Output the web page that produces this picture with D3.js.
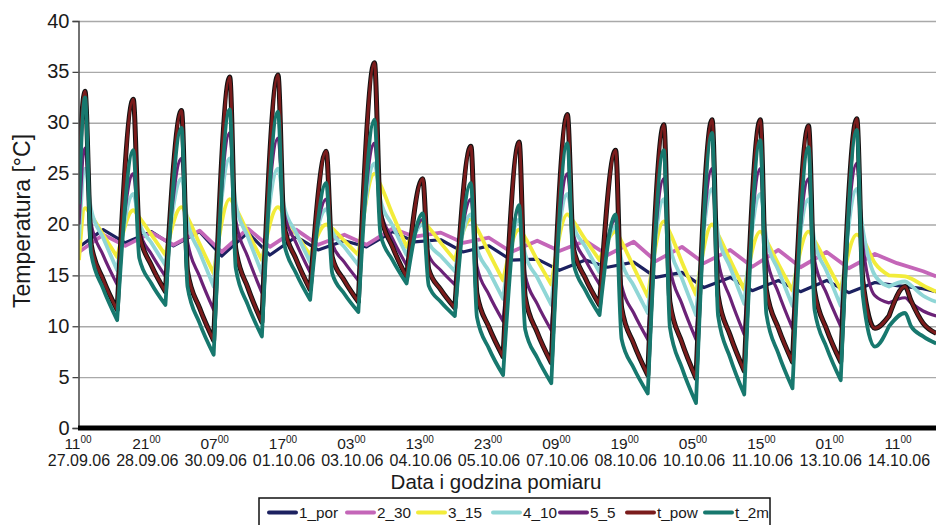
<!DOCTYPE html>
<html><head><meta charset="utf-8">
<script src="https://cdn.jsdelivr.net/npm/d3@7"></script>
<style>
html,body{margin:0;padding:0;background:#fff;}
svg{display:block;font-family:"Liberation Sans",Arial,Helvetica,sans-serif;}
</style></head><body>
<svg id="chart" width="936" height="525"></svg>
<script>
// ---------------- DATA ----------------
const seriesNames = ["1_por", "2_30", "3_15", "4_10", "5_5", "t_pow", "t_2m"];
const tickHours = ["11","21","07","17","03","13","23","09","19","05","15","01","11"];
const tickDates = ["27.09.06","28.09.06","30.09.06","01.10.06","03.10.06","04.10.06","05.10.06","07.10.06","08.10.06","10.10.06","11.10.06","13.10.06","14.10.06"];
const yTicks = [0, 5, 10, 15, 20, 25, 30, 35, 40];
const firstDay = "27.09.06";
const startClock = 11;            // first reading 11:00 27.09.06
const endStamp = "15.10.06 05:30"; // last reading
// surface-type series: one row per day, readings at these clock hours (first row starts at 11:00)
const surfaceClock = [6, 14, 17, 23];
// deep series: one row per day, readings at these clock hours (first row starts at 11:00)
const deepClock = [10, 23];

const por1 = [[17.8,19.5],[18.2,19.3],[17.9,19.3],[16.9,19.2],[17.0,18.8],[17.5,18.4],[17.8,19.3],[18.3,18.5],[17.3,17.9],[16.5,16.6],[15.5,16.5],[15.8,16.3],[14.8,15.3],[13.8,14.8],[13.5,14.5],[13.4,14.5],[13.3,14.3],[14.0,13.7]];
const por1End = 13.4;
const s2_30 = [[17.3,19.0],[17.9,19.2],[18.0,19.4],[17.3,19.6],[17.8,19.5],[18.0,19.0],[18.0,19.6],[18.8,19.2],[18.2,18.7],[17.3,18.4],[17.4,18.4],[17.0,18.3],[16.4,17.8],[16.2,17.5],[15.85,17.5],[15.8,17.3],[15.7,17.1],[16.2,15.4]];
const s2_30End = 14.9;
const s3_15 = [[16.5,21.6,20.9,19.0],[16.8,21.4,20.7,19.0],[17.0,21.7,20.7,18.1],[15.2,22.5,21.6,19.2],[16.5,21.7,21.0,19.1],[17.0,20.0,19.6,18.4],[17.0,25.0,23.9,21.0],[17.8,20.3,19.7,18.2],[16.5,20.5,19.6,17.2],[14.5,19.5,18.7,16.5],[14.1,21.0,20.3,18.5],[16.5,19.3,18.3,15.8],[12.9,20.3,19.2,16.3],[13.1,20.0,19.0,16.5],[13.6,19.3,18.4,16.1],[13.5,19.3,18.4,16.2],[13.6,19.0,18.5,16.2],[15.0,14.9,14.7,14.0]];
const s3_15End = 13.4;
const s4_10 = [[18.5,25.5,21.5,18.7],[15.5,23.0,20.2,18.2],[16.0,24.5,20.3,17.3],[13.9,26.5,22.0,18.8],[15.2,25.5,21.8,19.2],[16.3,21.5,19.3,17.8],[16.0,26.0,22.4,19.9],[17.0,20.0,18.2,16.9],[15.4,21.0,17.7,15.4],[12.7,20.5,17.1,14.8],[12.1,23.0,19.9,17.8],[15.3,19.8,16.4,14.0],[11.3,22.5,17.9,14.7],[11.1,23.5,19.0,15.8],[12.2,23.0,18.6,15.5],[12.0,22.5,18.3,15.4],[12.0,23.5,19.5,15.0],[13.9,14.4,14.0,13.0]];
const s4_10End = 12.4;
const s5_5 = [[20.0,27.5,20.1,17.0],[14.1,25.0,19.4,17.1],[14.9,26.5,18.3,14.9],[11.6,29.0,20.4,16.8],[13.3,28.5,21.2,18.2],[15.3,22.5,18.1,16.3],[14.5,28.0,21.4,18.6],[16.0,20.5,17.0,15.5],[14.1,22.5,15.9,13.1],[10.5,21.5,15.0,12.2],[9.6,25.0,19.0,16.5],[14.1,20.5,14.0,11.3],[8.7,24.5,15.8,12.2],[8.7,25.5,16.5,12.8],[9.2,25.5,16.9,13.3],[9.8,24.5,16.5,13.2],[10.0,26.0,18.0,13.0],[12.3,12.8,12.3,11.5]];
const s5_5End = 11.0;
const tPow = [[26.0,33.1,18.1,14.6],[11.6,32.3,19.1,16.0],[13.4,31.2,15.4,11.8],[8.6,34.5,17.6,13.8],[10.4,34.7,19.9,16.6],[13.6,27.2,16.8,14.5],[12.4,35.9,21.1,17.8],[14.8,24.5,15.6,13.6],[11.8,27.7,13.2,9.9],[7.0,28.1,12.9,9.4],[6.4,30.8,17.7,14.7],[12.1,27.3,11.8,8.3],[5.2,29.8,12.4,8.4],[4.9,30.3,13.0,9.1],[5.6,30.3,13.6,9.8],[6.5,29.7,13.5,9.7],[6.5,30.4,14.5,9.8],[11.0,13.9,12.5,10.3]];
const tPowEnd = 9.3;
const t2m = [[22.0,32.5,17.2,13.7],[10.6,27.3,16.7,14.2],[12.1,29.5,13.9,10.3],[7.2,31.3,15.7,12.1],[9.0,31.1,18.2,15.2],[12.6,24.1,15.2,13.2],[11.4,30.3,19.0,16.5],[14.2,21.1,14.0,12.4],[11.0,24.1,10.9,7.8],[5.2,21.9,9.7,6.9],[4.4,28.0,16.2,13.5],[11.1,21.0,8.7,5.9],[3.4,27.3,9.9,5.9],[2.45,29.0,11.0,6.9],[3.3,28.3,11.2,7.3],[3.9,27.6,11.6,7.9],[4.7,29.3,13.0,8.0],[10.0,11.3,10.0,9.0]];
const t2mEnd = 8.3;

// ---------------- STYLE ----------------
const colors = ["#1c2160", "#c466b8", "#f2ec3a", "#8fd6d6", "#6b2277", "#7a1c1c", "#17786e"];
const widths = [3.2, 3.8, 3.8, 3.8, 3.2, 3.0, 3.8];
const legendLineX = [269, 347, 418, 493, 560, 627, 705];

// ---------------- BUILD ----------------
const parseDay = d3.utcParse("%d.%m.%y");
const parseStamp = d3.utcParse("%d.%m.%y %H:%M");
const day0 = parseDay(firstDay);

function build(rows, clock, endVal) {
  const pts = [];
  const breaks = [];
  rows.forEach((row, d) => {
    breaks.push(pts.length);
    row.forEach((v, j) => {
      const hr = (d === 0 && j === 0) ? startClock : clock[j];
      pts.push({t: d3.utcHour.offset(d3.utcDay.offset(day0, d), hr), v});
    });
  });
  pts.push({t: parseStamp(endStamp), v: endVal});
  breaks.push(pts.length - 1);
  return {pts, breaks};
}
const data = [
  build(por1, deepClock, por1End),
  build(s2_30, deepClock, s2_30End),
  build(s3_15, surfaceClock, s3_15End),
  build(s4_10, surfaceClock, s4_10End),
  build(s5_5, surfaceClock, s5_5End),
  build(tPow, surfaceClock, tPowEnd),
  build(t2m, surfaceClock, t2mEnd)
];
const deepSeries = [true, true, false, false, false, false, false];

const svg = d3.select("#chart");
const L = 79, R = 936, T = 21, B = 428;
const firstTick = parseStamp(tickDates[0] + " " + tickHours[0] + ":00");
const lastTick = parseStamp(tickDates[tickDates.length-1] + " " + tickHours[tickHours.length-1] + ":00");
const x = d3.scaleUtc().domain([firstTick, lastTick]).range([L, 899]);
const y = d3.scaleLinear().domain([0, 40]).range([B, T]);

// gridlines
svg.append("g").attr("transform", `translate(${L},0)`)
  .call(d3.axisLeft(y).tickValues(yTicks.filter(v => v > 0)).tickSize(-(R - L)).tickFormat(""))
  .call(g => g.select(".domain").remove())
  .call(g => g.selectAll("line").attr("stroke", "#a9a9a9").attr("stroke-width", 1.4));

// series
svg.append("defs").append("clipPath").attr("id", "clip")
  .append("rect").attr("x", L).attr("y", 0).attr("width", R - L).attr("height", B);
const smooth = d3.line().x(p => x(p.t)).y(p => y(p.v)).curve(d3.curveMonotoneX);
const straight = d3.line().x(p => x(p.t)).y(p => y(p.v)).curve(d3.curveLinear);
function pathFor(s, deep) {
  if (deep) return straight(s.pts);
  let d = "";
  for (let k = 0; k < s.breaks.length - 1; k++) {
    const part = s.pts.slice(s.breaks[k], s.breaks[k + 1] + 1);
    let p = smooth(part);
    if (k > 0) p = "L" + p.slice(1);
    d += p;
  }
  return d;
}
const gS = svg.append("g").attr("clip-path", "url(#clip)");
data.forEach((s, i) => {
  const d = pathFor(s, deepSeries[i]);
  if (seriesNames[i] === "t_pow") {
    gS.append("path").attr("d", d).attr("fill", "none")
      .attr("stroke", "#111").attr("stroke-width", 5).attr("stroke-linejoin", "round");
  }
  gS.append("path").attr("d", d).attr("fill", "none")
    .attr("stroke", colors[i]).attr("stroke-width", widths[i]).attr("stroke-linejoin", "round");
});

// y axis
const yAx = svg.append("g").attr("transform", `translate(${L - 0.5},0)`)
  .call(d3.axisLeft(y).tickValues(yTicks).tickSize(6).tickPadding(3).tickFormat(d3.format("d")));
yAx.select(".domain").attr("stroke", "#444").attr("stroke-width", 1.5);
yAx.selectAll(".tick line").attr("stroke", "#444").attr("stroke-width", 1.3);
yAx.selectAll(".tick text").attr("font-size", 20).attr("fill", "#1a1a1a").attr("dy", "0.3em")
  .attr("font-family", "'Liberation Sans', Arial, sans-serif");

// thick bottom axis
svg.append("line").attr("x1", L - 1).attr("x2", R).attr("y1", y(0)).attr("y2", y(0))
  .attr("stroke", "#000").attr("stroke-width", 5);

// x labels
const xAx = svg.append("g");
tickDates.forEach((dt, i) => {
  const t = parseStamp(dt + " " + tickHours[i] + ":00");
  const tx = x(t);
  const h = xAx.append("text").attr("x", tx - 1).attr("y", 449).attr("text-anchor", "middle")
    .attr("font-size", 15.5).attr("fill", "#1a1a1a");
  h.append("tspan").text(tickHours[i]);
  h.append("tspan").attr("font-size", 10).attr("dy", -6).text("00");
  xAx.append("text").attr("x", tx).attr("y", 466).attr("text-anchor", "middle")
    .attr("font-size", 16).attr("fill", "#1a1a1a").text(dt);
});

// axis titles
svg.append("text").attr("x", 496).attr("y", 489).attr("text-anchor", "middle")
  .attr("font-size", 20.5).attr("fill", "#1a1a1a").text("Data i godzina pomiaru");
svg.append("text").attr("transform", "translate(30,221) rotate(-90)").attr("text-anchor", "middle")
  .attr("font-size", 23).attr("fill", "#1a1a1a").text("Temperatura [°C]");

// legend
const lg = svg.append("g");
lg.append("rect").attr("x", 259).attr("y", 498).attr("width", 511).attr("height", 40)
  .attr("fill", "#fff").attr("stroke", "#111").attr("stroke-width", 1.5);
seriesNames.forEach((n, i) => {
  const lx = legendLineX[i];
  lg.append("line").attr("x1", lx).attr("x2", lx + 27).attr("y1", 512.5).attr("y2", 512.5)
    .attr("stroke", colors[i]).attr("stroke-width", 4).attr("stroke-linecap", "round");
  lg.append("text").attr("x", lx + 30).attr("y", 518).attr("font-size", 15.3)
    .attr("fill", "#1a1a1a").text(n);
});
</script>
</body></html>
